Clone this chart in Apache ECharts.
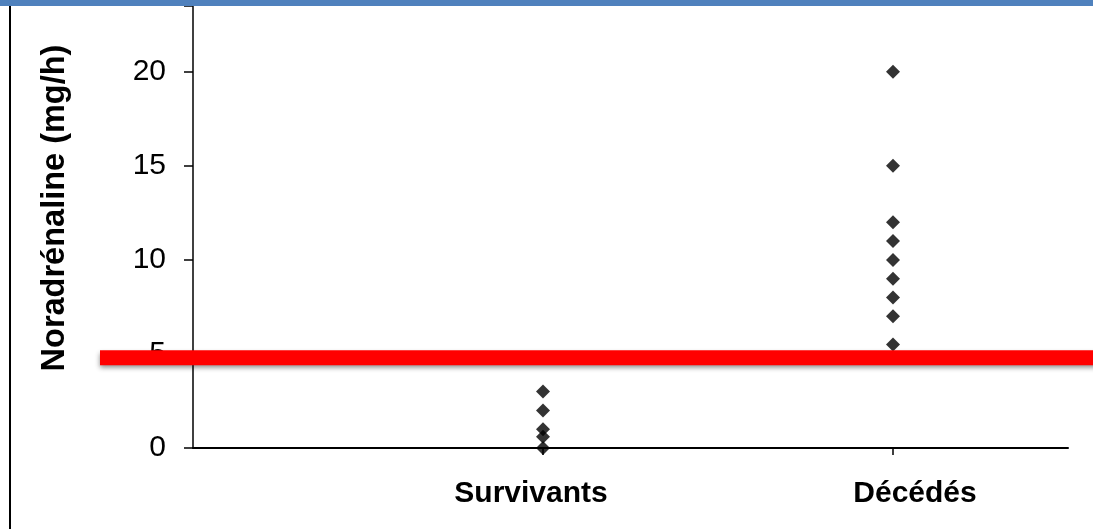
<!DOCTYPE html>
<html>
<head>
<meta charset="utf-8">
<script src="https://cdn.jsdelivr.net/npm/echarts@6/dist/echarts.min.js"></script>
<style>
  html, body { margin: 0; padding: 0; background: #fff; }
  #chart { width: 1093px; height: 529px; }
</style>
</head>
<body>
<div id="chart"></div>
<script>
// groupes (position sur l'axe x) et valeurs
const groupNames = { 1: "Survivants", 2: "Décédés" };
const survivants = [3, 2, 1, 0.6, 0];
const decedes = [20, 15, 12, 11, 10, 9, 8, 7, 5.5];
const yTicks = [0, 5, 10, 15, 20];
const seuil = 4.8; // ligne rouge

let chartDom = document.getElementById("chart");
let myChart = echarts.init(chartDom);

let points = [];
survivants.forEach((v) => points.push([1, v]));
decedes.forEach((v) => points.push([2, v]));

let option = {
  animation: false,
  grid: { left: 193, right: 25, top: 6, bottom: 81 },
  xAxis: {
    type: "value",
    min: 0,
    max: 2.5,
    interval: 1,
    splitLine: { show: false },
    axisLine: { lineStyle: { color: "#000", width: 2 } },
    axisTick: { customValues: [1, 2], length: 7, lineStyle: { color: "#000", width: 1.5 } },
    axisLabel: {
      customValues: [1, 2],
      margin: 31,
      formatter: function (v) {
        // décalage des étiquettes comme dans l'original
        return v === 1 ? "{a|" + groupNames[1] + "}" : "{b|" + groupNames[2] + "}";
      },
      rich: {
        a: { fontFamily: "Liberation Sans", fontWeight: "bold", fontSize: 30, color: "#000", padding: [0, 24, 0, 0] },
        b: { fontFamily: "Liberation Sans", fontWeight: "bold", fontSize: 30, color: "#000", padding: [0, 0, 0, 44] },
      },
    },
  },
  yAxis: {
    type: "value",
    min: 0,
    max: 23.5,
    interval: 5,
    name: "Noradrénaline (mg/h)",
    nameLocation: "middle",
    nameRotate: 90,
    nameGap: 121,
    nameTextStyle: {
      fontFamily: "Liberation Sans",
      fontWeight: "bold",
      fontSize: 32.5,
      color: "#000",
      padding: [0, 0, 0, 38],
    },
    splitLine: { show: false },
    axisLine: { show: true, lineStyle: { color: "#000", width: 1.5 } },
    axisTick: { show: true, length: 9, lineStyle: { color: "#000", width: 1.5 } },
    axisLabel: {
      customValues: yTicks,
      margin: 27,
      fontFamily: "Liberation Sans",
      fontSize: 30,
      color: "#000",
    },
  },
  series: [
    {
      name: "patients",
      type: "scatter",
      symbol: "diamond",
      symbolSize: 14,
      itemStyle: { color: "#000" },
      data: points,
      z: 3,
    },
  ],
};

myChart.setOption(option);

// ligne rouge du seuil + cadre (bandeau bleu, trait gauche)
let ySeuil = myChart.convertToPixel({ yAxisIndex: 0 }, seuil);
myChart.setOption({
  graphic: [
    {
      type: "rect",
      shape: { x: 0, y: 0, width: 1093, height: 6 },
      style: { fill: "#4f81bd" },
      z: 100,
    },
    {
      type: "line",
      shape: { x1: 10, y1: 6, x2: 10, y2: 529 },
      style: { stroke: "#000", lineWidth: 2 },
    },
    {
      type: "rect",
      shape: { x: 100, y: ySeuil - 7.5, width: 1000, height: 15 },
      style: {
        fill: "#ff0000",
        shadowColor: "rgba(0,0,0,0.45)",
        shadowBlur: 5,
        shadowOffsetY: 3,
      },
      z: 50,
    },
  ],
});
</script>
</body>
</html>
